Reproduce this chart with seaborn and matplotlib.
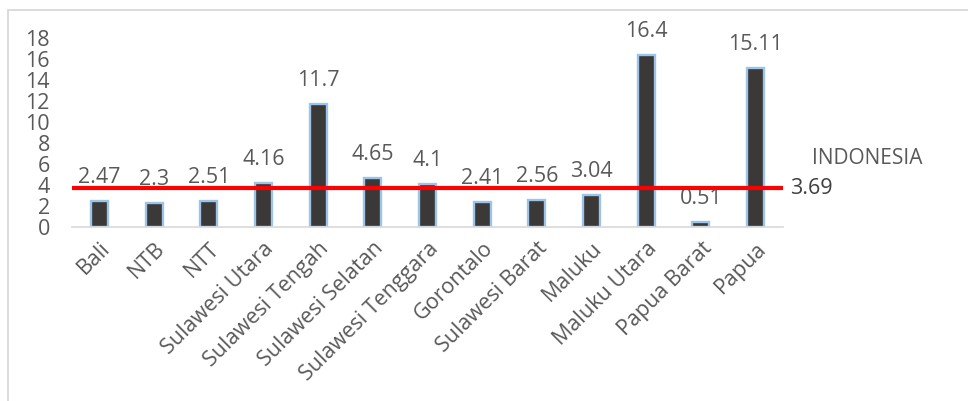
import matplotlib
matplotlib.use("Agg")
import matplotlib.pyplot as plt
import seaborn as sns
from matplotlib.lines import Line2D

categories = ["Bali", "NTB", "NTT", "Sulawesi Utara", "Sulawesi Tengah",
              "Sulawesi Selatan", "Sulawesi Tenggara", "Gorontalo",
              "Sulawesi Barat", "Maluku", "Maluku Utara", "Papua Barat", "Papua"]
values = [2.47, 2.3, 2.51, 4.16, 11.7, 4.65, 4.1, 2.41, 2.56, 3.04, 16.4, 0.51, 15.11]
value_labels = ["2.47", "2.3", "2.51", "4.16", "11.7", "4.65", "4.1", "2.41",
                "2.56", "3.04", "16.4", "0.51", "15.11"]
national_value = 3.69
national_name = "INDONESIA"
yticks = [0, 2, 4, 6, 8, 10, 12, 14, 16, 18]

sns.set_theme(style="white")
plt.rcParams['font.family'] = ['Open Sans', 'DejaVu Sans']

W, H = 968, 401
fig = plt.figure(figsize=(W / 100, H / 100), dpi=100)
ax = fig.add_axes([72 / W, 1 - 227 / H, (783 - 72) / W, (227 - 38) / H])

sns.barplot(x=categories, y=values, color="#3b3838", width=0.31,
            edgecolor="#9cc3e8", linewidth=1.7, saturation=1, ax=ax)

ax.axhline(national_value, color="#ff0000", linewidth=3, zorder=5)

txt_color = "#595959"
fs = 15.5
for i, (v, lab) in enumerate(zip(values, value_labels)):
    ax.annotate(lab, (i, v), xytext=(0, 17), textcoords="offset points",
                ha="center", va="center", fontsize=fs, color=txt_color)

ax.set_xlim(-0.5, len(categories) - 0.5)
ax.set_ylim(0, 18)
ax.set_yticks(yticks)
ax.set_yticklabels([str(t) for t in yticks], fontsize=fs, color=txt_color)
ax.tick_params(axis="y", length=0, pad=16)
ax.tick_params(axis="x", length=0, pad=8)
ax.set_xticks(range(len(categories)))
ax.set_xticklabels(categories, rotation=45, ha="right", rotation_mode="anchor",
                   fontsize=fs, color=txt_color)
for s in ["top", "right", "left"]:
    ax.spines[s].set_visible(False)
ax.spines["bottom"].set_color("#d9d9d9")
ax.spines["bottom"].set_linewidth(1.2)
ax.set_xlabel("")
ax.set_ylabel("")
ax.grid(False)

fig.text(790 / W, 1 - 188 / H, f"{national_value:.2f}", ha="left", va="center",
         fontsize=fs, color="#404040")
fig.text(812 / W, 1 - 158 / H, national_name, ha="left", va="center",
         fontsize=15, color=txt_color)

# chart-area border (top and left)
fig.add_artist(Line2D([8 / W, 1], [1 - 10 / H, 1 - 10 / H], color="#d9d9d9",
                      linewidth=1.3, transform=fig.transFigure))
fig.add_artist(Line2D([8 / W, 8 / W], [0, 1 - 10 / H], color="#d9d9d9",
                      linewidth=1.3, transform=fig.transFigure))

fig.savefig("out.png", dpi=100)
